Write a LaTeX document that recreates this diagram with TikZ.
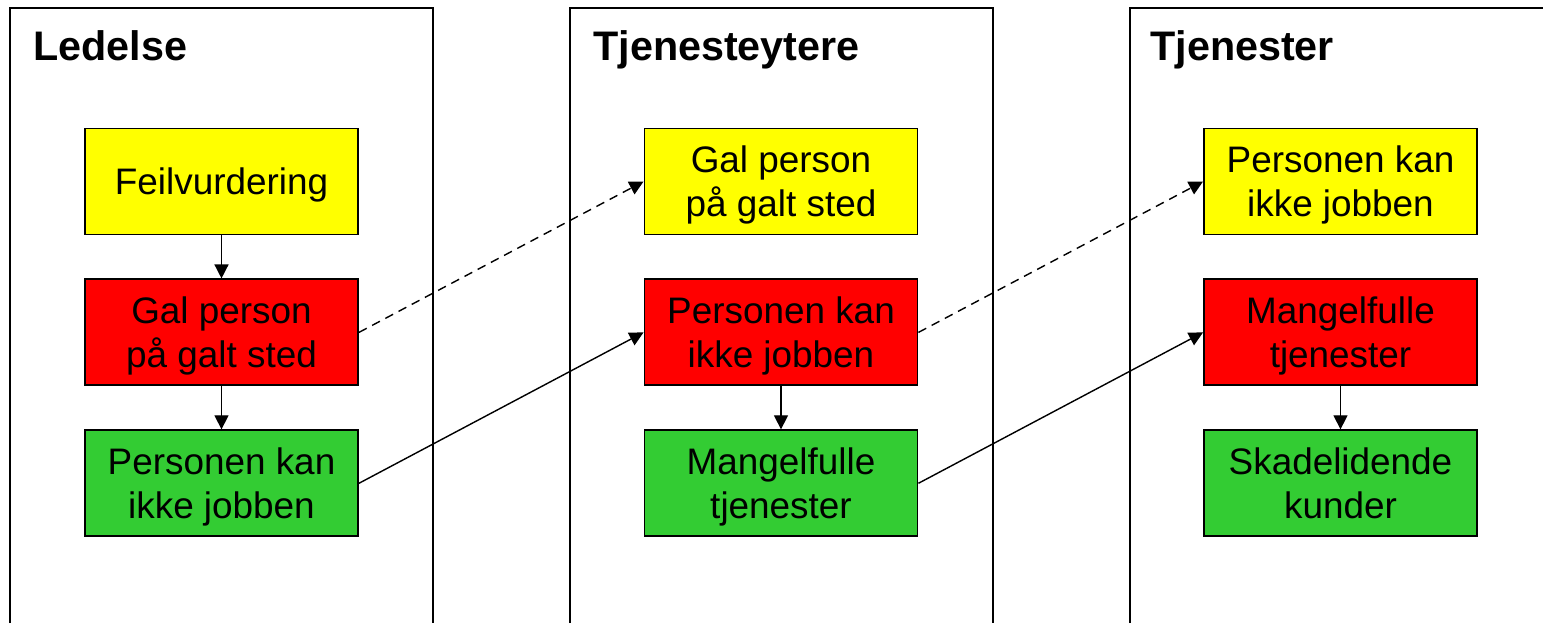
\documentclass[tikz,border=0pt]{standalone}
\usepackage{fontspec}
\setmainfont{Liberation Sans}
\usetikzlibrary{positioning}
\usetikzlibrary{arrows.meta}

\definecolor{boxyellow}{HTML}{FFFF00}
\definecolor{boxred}{HTML}{FF0000}
\definecolor{boxgreen}{HTML}{33CC33}

\begin{document}
\begin{tikzpicture}[x=0.02cm, y=0.02cm,
    panel/.style={line width=1.1pt},
    title/.style={anchor=base west, inner sep=0pt, font=\fontsize{23.5}{28}\selectfont\bfseries},
    box/.style={draw, line width=1.1pt, minimum width=5.46cm, minimum height=2.12cm,
        inner sep=0pt, text depth=0pt, align=center, font=\fontsize{21}{25}\selectfont},
    arr/.style={line width=0.8pt, -{Triangle[length=8pt, width=8pt]}},
    dashedarr/.style={arr, dash pattern=on 5pt off 3.5pt}]
    \useasboundingbox (0,0) rectangle (1543,623);

    % panels, open at the bottom
    \draw[panel] (10,0) -- (10,615) -- (433,615) -- (433,0);
    \draw[panel] (570,0) -- (570,615) -- (993,615) -- (993,0);
    \draw[panel] (1130,0) -- (1130,615) -- (1543,615);

    \node[title] (t1) at (33,562) {Ledelse};
    \node[title] (t2) at (593,562) {Tjenesteytere};
    \node[title] (t3) at (1150,562) {Tjenester};

    % Ledelse
    \node[box, fill=boxyellow] (l1) at (221.5,441.5) {Feilvurdering};
    \node[box, fill=boxred, below=0.86cm of l1] (l2) {Gal person\\på galt sted};
    \node[box, fill=boxgreen, below=0.86cm of l2] (l3) {Personen kan\\ikke jobben};

    % Tjenesteytere
    \node[box, fill=boxyellow] (m1) at (781,441.5) {Gal person\\på galt sted};
    \node[box, fill=boxred, below=0.86cm of m1] (m2) {Personen kan\\ikke jobben};
    \node[box, fill=boxgreen, below=0.86cm of m2] (m3) {Mangelfulle\\tjenester};

    % Tjenester
    \node[box, fill=boxyellow] (r1) at (1340.5,441.5) {Personen kan\\ikke jobben};
    \node[box, fill=boxred, below=0.86cm of r1] (r2) {Mangelfulle\\tjenester};
    \node[box, fill=boxgreen, below=0.86cm of r2] (r3) {Skadelidende\\kunder};

    \draw[arr] (l1) -- (l2);
    \draw[arr] (l2) -- (l3);
    \draw[arr] (m2) -- (m3);
    \draw[arr] (r2) -- (r3);

    \draw[dashedarr] (l2.east) -- (m1.west);
    \draw[arr] (l3.east) -- (m2.west);
    \draw[dashedarr] (m2.east) -- (r1.west);
    \draw[arr] (m3.east) -- (r2.west);
\end{tikzpicture}
\end{document}
